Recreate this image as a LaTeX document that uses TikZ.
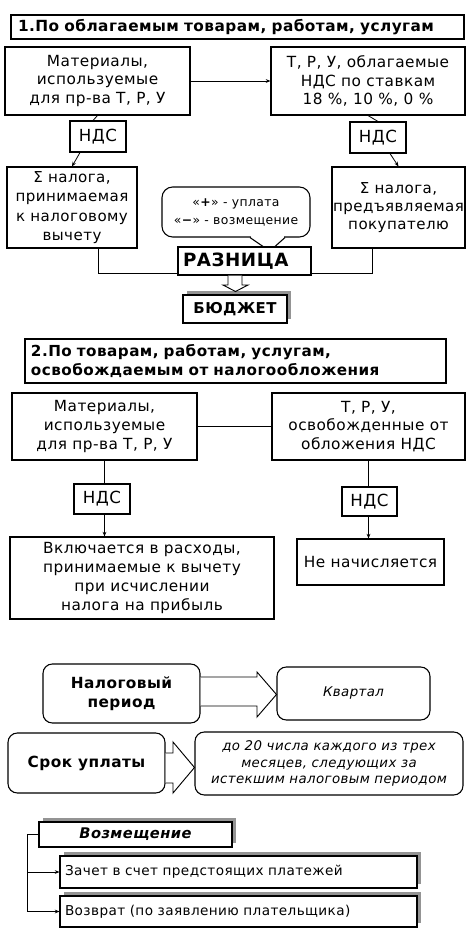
\documentclass[tikz,border=0pt]{standalone}
\usepackage{fontspec}
\setmainfont{DejaVu Sans}[LetterSpace=3]
\usetikzlibrary{calc,arrows.meta,shadows}
\begin{document}
\begin{tikzpicture}[x=0.75pt,y=-0.75pt,
  rect/.style n args={4}{at={({(#1+#3)/2},{(#2+#4)/2})},
    minimum width={(#3-#1)*0.75pt}, minimum height={(#4-#2)*0.75pt}},
  bx/.style={draw, line width=0.8pt, inner sep=0pt, fill=white, align=center,
    anchor=center, font=\fontsize{11.5}{14}\selectfont},
  rbx/.style={bx, rounded corners=7pt},
  shd/.style={drop shadow={shadow xshift=3pt,shadow yshift=3pt,fill=black!42,opacity=1}},
  ln/.style={line width=0.6pt},
  ar/.style={ln,-{Stealth[length=3.5pt,width=2.8pt]}},
  nds/.style={bx, font=\fontsize{12.5}{14}\selectfont},
  hol/.style={draw, line width=0.7pt, fill=white}]
\useasboundingbox (0,0) rectangle (473,935);

% ---------- section 1 ----------
\node[bx, rect={11}{15}{464}{39}, text width=329.25pt, align=left,
  font=\bfseries\fontsize{11.5}{13}\selectfont] (t1) {1.По облагаемым товарам, работам, услугам};
\node[bx, rect={5}{47}{190}{115}] (m1) {Материалы,\\используемые\\для пр-ва Т, Р, У};
\node[bx, rect={271}{47}{465}{115}] (m2) {Т, Р, У, облагаемые\\НДС по ставкам\\18 \%, 10 \%, 0 \%};
\node[nds, rect={70}{121}{126}{152}] (n1) {НДС};
\node[nds, rect={350}{122}{406}{153}] (n2) {НДС};
\node[bx, rect={7}{167}{137}{248}, font=\fontsize{11.3}{14.5}\selectfont] (s1) {Σ налога,\\принимаемая\\к налоговому\\вычету};
\node[bx, rect={332}{167}{465}{248}, font=\fontsize{11.3}{13.3}\selectfont] (s2) {Σ налога,\\предъявляемая\\покупателю};
\node[bx, rounded corners=8pt, rect={162}{187}{310}{237}, font=\fontsize{9.3}{13.5}\selectfont] (c) {«\textbf{+}» - уплата\\«\textbf{−}» - возмещение};
\node[bx, rect={178}{247}{311}{275}, text width=92.25pt, align=left,
  font=\bfseries\fontsize{13.7}{15}\selectfont] (r) {РАЗНИЦА};
\node[bx, shd, rect={183}{295}{287}{323}, font=\bfseries\fontsize{11.2}{13}\selectfont] (b) {БЮДЖЕТ};

\draw[ar] (m1.east) -- (m2.west);
\draw[ln] (m1.south) -- ($(n1.north)+(-5,0)$);
\draw[ar] ($(n1.south)+(-18,0)$) -- (s1.north);
\draw[ln] (m2.south) -- (n2.north);
\draw[ar] ($(n2.south)+(12,0)$) -- (s2.north);
% callout tail
\draw[white, line width=1.6pt] ($(c.south)+(14.6,0)$) -- ($(c.south)+(48.4,0)$);
\draw[line width=0.8pt] ($(c.south)+(14,0)$) -- ($(r.north)+(18.5,0)$);
\draw[line width=0.8pt] ($(c.south)+(49,0)$) -- ($(r.north)+(30.5,0)$);
% lines to difference
\draw[ln] ($(s1.south)+(26,0)$) |- ($(r.south west)+(0,-2)$);
\draw[ln] ($(s2.south)+(-26.5,0)$) |- ($(r.south east)+(0,-2)$);
% hollow down arrow
\filldraw[hol] (r.south -| 228,0) -- (228,285) -- (223,285) -- (235.5,291.5) -- (248,285) -- (242,285) -- (r.south -| 242,0);

% ---------- section 2 ----------
\node[bx, rect={25}{339}{446}{383}, text width=306.75pt, align=left,
  font=\bfseries\fontsize{11.4}{14}\selectfont] (t2) {2.По товарам, работам, услугам,\\освобождаемым от налогообложения};
\node[bx, rect={12}{393}{197}{460}] (m3) {Материалы,\\используемые\\для пр-ва Т, Р, У};
\node[bx, rect={272}{393}{465}{460}] (m4) {Т, Р, У,\\освобожденные от\\обложения НДС};
\node[nds, rect={74}{484}{130}{514}] (n3) {НДС};
\node[nds, rect={342}{487}{397}{516}] (n4) {НДС};
\node[bx, rect={10}{537}{274}{619}, font=\fontsize{11.5}{14.3}\selectfont] (v) {Включается в расходы,\\принимаемые к вычету\\при исчислении\\налога на прибыль};
\node[bx, rect={297}{539}{444}{585}] (nn) {Не начисляется};

\draw[ln] (m3.east) -- (m4.west);
\draw[ln] (m3.south) -- (m3.south |- n3.north);
\draw[ar] (m3.south |- n3.south) -- (m3.south |- v.north);
\draw[ln] (m4.south) -- (m4.south |- n4.north);
\draw[ar] (m4.south |- n4.south) -- (m4.south |- nn.north);

% ---------- section 3 ----------
\node[rbx, rect={43}{664}{200}{723}, font=\bfseries\fontsize{11.5}{14}\selectfont] (np) {Налоговый\\период};
\node[rbx, rect={277}{667}{430}{720}, font=\itshape\fontsize{10}{12}\selectfont] (kv) {Квартал};
\node[rbx, rect={8}{733}{165}{793}, font=\bfseries\fontsize{11.5}{13}\selectfont] (sr) {Срок уплаты};
\node[rbx, rect={195}{732}{463}{795}, font=\itshape\fontsize{10}{12.5}\selectfont] (d) {до 20 числа каждого из трех\\месяцев, следующих за\\истекшим налоговым периодом};

\filldraw[hol] (np.east |- 0,677) -- (257,677) -- (257,672) -- (kv.west |- 0,694.5) -- (257,717) -- (257,706) -- (np.east |- 0,706);
\filldraw[hol] (sr.east |- 0,753) -- (173,753) -- (173,742) -- (d.west |- 0,767.5) -- (173,793) -- (173,783) -- (sr.east |- 0,783);

% ---------- section 4 ----------
\node[bx, shd, rect={39}{822}{232}{847}, font=\bfseries\itshape\fontsize{11}{12}\selectfont] (vz) {Возмещение};
\node[bx, shd, rect={60}{856}{417}{888}, text width=260.25pt, align=left, font=\fontsize{10.2}{12}\selectfont] (z1) {Зачет в счет предстоящих платежей};
\node[bx, shd, rect={60}{896}{417}{927}, text width=260.25pt, align=left, font=\fontsize{10.2}{12}\selectfont] (z2) {Возврат (по заявлению плательщика)};
\coordinate (vl) at (27,834.5);
\draw[ar] (vz.west) -- (vl) |- (z2.west);
\draw[ar] (vl |- z1.west) -- (z1.west);
\end{tikzpicture}
\end{document}
